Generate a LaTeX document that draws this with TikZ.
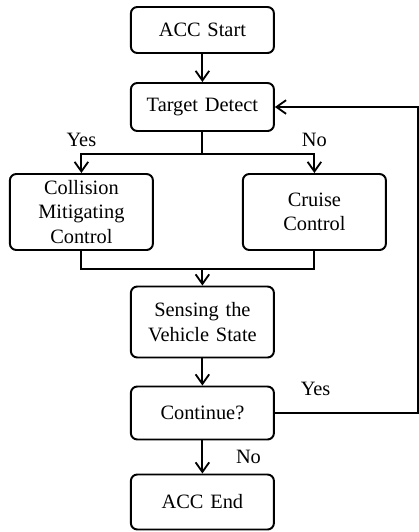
\documentclass[tikz,border=0pt]{standalone}
\usepackage{fontspec}
\setmainfont{Liberation Serif}
\usetikzlibrary{arrows.meta, positioning}
\tikzstyle{accBox} = [rectangle, rounded corners=.16cm, draw, line width=1.4pt, text centered, align=center, text width=3.3cm, minimum width=3.575cm, minimum height=1.2cm, inner sep=1pt, font=\fontsize{14.5}{17.5}\selectfont]
\tikzstyle{flowLine} = [line width=1.3pt]
\tikzstyle{flowArrow} = [line width=1.3pt, -{Straight Barb[length=2.4mm,width=3.4mm]}]
\tikzstyle{lbl} = [font=\fontsize{14.5}{17.5}\selectfont]

\begin{document}
\begin{tikzpicture}[node distance=2.25cm]
		\useasboundingbox (0,0) rectangle (10.475,-13.3);
		\node [accBox, minimum height=1.15cm](start) at (5.06,-.75){ACC Start};
		\node [accBox,below of=start,yshift=.325cm](target){Target Detect};
		\node [accBox,below of=target,minimum height=1.9cm,xshift=-3.025cm,yshift=-.375cm](collision){Collision\\Mitigating\\Control};
		\node [accBox,below of=target,minimum height=1.9cm,xshift=2.8cm,yshift=-.375cm](cruise){Cruise\\Control};
		\node [accBox,below of=target,minimum height=1.775cm,yshift=-3.125cm](sensing){Sensing the\\Vehicle State};
		\node [accBox,below of=sensing,minimum height=1.325cm,yshift=-.025cm](continue){Continue?};
		\node [accBox,below of=continue,minimum height=1.375cm,yshift=.025cm](finish){ACC End};
		
		\draw [flowArrow] (start) -- (target);
		\draw [flowLine] (target.south) -- ++(0,-.55) coordinate (split);
		\draw [flowArrow] (split) -| node[lbl,pos=.5,above,yshift=1pt]{Yes} (collision.north);
		\draw [flowArrow] (split) -| node[lbl,pos=.5,above,yshift=1pt]{No} (cruise.north);
		\draw [flowLine] (collision.south) -- ++(0,-.45) coordinate (merge) -| (cruise.south);
		\draw [flowArrow] (merge -| sensing.north) -- (sensing.north);
		\draw [flowArrow] (sensing) -- (continue);
		\draw [flowArrow] (continue) -- node[lbl,right,xshift=.7cm]{No} (finish);
		%\draw [flowLine] (continue.east) -- ++(3.6,0);
		\draw [flowArrow] (continue.east) -- node[lbl,pos=.285,above,yshift=.3cm]{Yes} ++(3.57,0) |- (target.east);
		
		\end{tikzpicture}
\end{document}
